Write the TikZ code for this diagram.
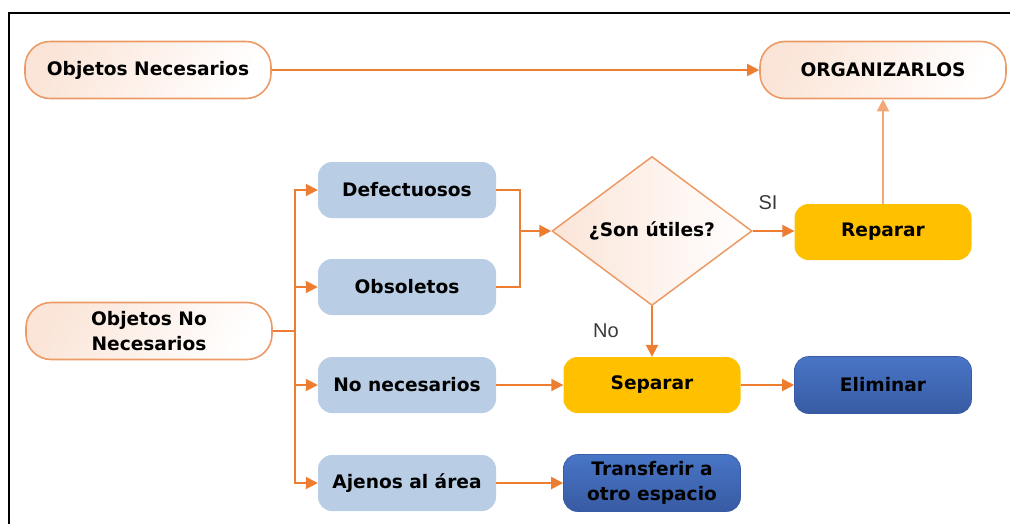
\documentclass[tikz,border=0pt]{standalone}
\usepackage{fontspec}
\setmainfont{DejaVu Sans}
\newfontfamily\lblfont{Liberation Sans}
\usetikzlibrary{shapes.geometric,arrows.meta}
\definecolor{arrowor}{HTML}{ED7D31}
\definecolor{arrowlt}{HTML}{F4A878}
\definecolor{pillline}{HTML}{EC9A66}
\definecolor{peach}{HTML}{FBE5D8}
\definecolor{lightblue}{HTML}{B9CDE5}
\definecolor{gold}{HTML}{FFC000}
\definecolor{darkblueA}{HTML}{4875C6}
\definecolor{darkblueB}{HTML}{385BA3}
\definecolor{lblgray}{HTML}{3A3A3A}
\begin{document}
\begin{tikzpicture}[x=1pt,y=-1pt,
  every node/.style={font=\fontsize{18.6}{24.5}\selectfont\bfseries, text=black, align=center, inner sep=0pt},
  pill/.style={draw=pillline, line width=1.6pt, rounded corners=25pt,
    minimum width=246pt, minimum height=57pt, left color=peach, right color=white,
    shading angle=60},
  lbox/.style={fill=lightblue, rounded corners=14pt, minimum width=178pt, minimum height=56pt},
  gbox/.style={fill=gold, rounded corners=14pt, minimum width=177pt, minimum height=56pt},
  dbox/.style={top color=darkblueA, bottom color=darkblueB, draw=darkblueB, line width=0.6pt,
    rounded corners=14pt, minimum width=177pt, minimum height=57pt},
  decision/.style={diamond, draw=pillline, line width=1.5pt, aspect=1.34,
    minimum width=200pt, minimum height=149pt, left color=peach, right color=white},
  lbl/.style={font=\lblfont\fontsize{20}{22}\selectfont, text=lblgray},
  conn/.style={draw=arrowor, line width=2pt},
  arr/.style={conn, -{Triangle[length=12pt,width=12pt]}},
]
\useasboundingbox (0,0) rectangle (1010,523);

% outer frame (left and top edges)
\draw[line width=2.2pt, line cap=rect] (9,523) -- (9,13) -- (1010,13);

% nodes
\node[pill] (on)  at (148,70)  {Objetos Necesarios};
\node[pill] (org) at (883,70)  {ORGANIZARLOS};
\node[pill] (onn) at (149,331) {Objetos No\\Necesarios};

\node[lbox] (def) at (407,190) {Defectuosos};
\node[lbox] (obs) at (407,287) {Obsoletos};
\node[lbox] (nn)  at (407,385) {No necesarios};
\node[lbox] (aj)  at (407,483) {Ajenos al área};

\node[decision] (dia) at (652,231) {¿Son útiles?};
\node[gbox] (rep) at (883,232) {Reparar};
\node[gbox] (sep) at (652,385) {Separar};
\node[dbox] (eli) at (883,385) {Eliminar};
\node[dbox] (tra) at (652,483) {Transferir a\\otro espacio};

\node[lbl] (si) at (768,203) {SI};
\node[lbl] (no) at (606,331) {No};

% junction points
\coordinate (br) at (295,331);
\coordinate (mg) at (520,231);

% connectors
\draw[arr] (on.east) -- (org.west);
\draw[conn] (onn.east) -- (br);
\draw[arr] (br) |- (def.west);
\draw[arr] (br) |- (obs.west);
\draw[arr] (br) |- (nn.west);
\draw[arr] (br) |- (aj.west);
\draw[conn] (def.east) -| (mg);
\draw[conn] (obs.east) -| (mg);
\draw[arr] (mg) -- (dia.west);
\draw[arr] (dia.east) -- (dia.east -| rep.west);
\draw[arr, draw=arrowlt] (rep.north) -- (org.south);
\draw[arr] (dia.south) -- (sep.north);
\draw[arr] (nn.east) -- (sep.west);
\draw[arr] (sep.east) -- (eli.west);
\draw[arr] (aj.east) -- (tra.west);
\end{tikzpicture}
\end{document}
